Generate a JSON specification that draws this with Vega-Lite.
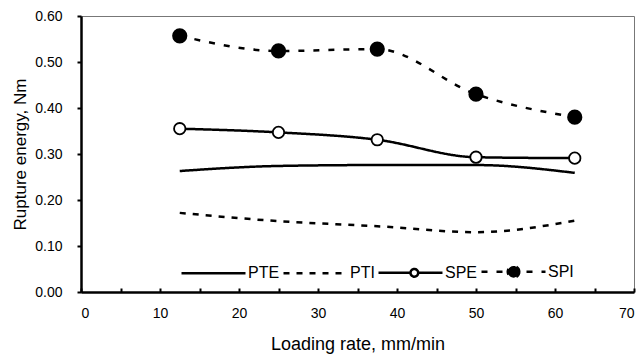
{
  "$schema": "https://vega.github.io/schema/vega-lite/v6.json",
  "width": 553,
  "height": 276,
  "autosize": {"type": "none"},
  "padding": {"left": 81, "top": 16, "right": 7, "bottom": 62},
  "background": "white",
  "config": {
    "view": {"stroke": "#777777", "strokeWidth": 1},
    "font": "Liberation Sans",
    "axis": {
      "grid": false,
      "domainColor": "black",
      "domainWidth": 2.5,
      "tickColor": "black",
      "tickWidth": 2,
      "labelColor": "black",
      "labelFont": "Liberation Sans",
      "labelFontSize": 14,
      "titleFont": "Liberation Sans",
      "titleFontSize": 17,
      "titleFontWeight": "normal",
      "titleColor": "black"
    }
  },
  "data": {
    "values": [
      {"series": "PTE", "rate": 12.5, "energy": 0.263},
      {"series": "PTE", "rate": 25, "energy": 0.274},
      {"series": "PTE", "rate": 37.5, "energy": 0.276},
      {"series": "PTE", "rate": 50, "energy": 0.276},
      {"series": "PTE", "rate": 62.5, "energy": 0.259},
      {"series": "PTI", "rate": 12.5, "energy": 0.172},
      {"series": "PTI", "rate": 25, "energy": 0.154},
      {"series": "PTI", "rate": 37.5, "energy": 0.143},
      {"series": "PTI", "rate": 50, "energy": 0.130},
      {"series": "PTI", "rate": 62.5, "energy": 0.155},
      {"series": "SPE", "rate": 12.5, "energy": 0.355},
      {"series": "SPE", "rate": 25, "energy": 0.347},
      {"series": "SPE", "rate": 37.5, "energy": 0.331},
      {"series": "SPE", "rate": 50, "energy": 0.293},
      {"series": "SPE", "rate": 62.5, "energy": 0.291},
      {"series": "SPI", "rate": 12.5, "energy": 0.557},
      {"series": "SPI", "rate": 25, "energy": 0.524},
      {"series": "SPI", "rate": 37.5, "energy": 0.528},
      {"series": "SPI", "rate": 50, "energy": 0.430},
      {"series": "SPI", "rate": 62.5, "energy": 0.380}
    ]
  },
  "encoding": {
    "x": {
      "field": "rate",
      "type": "quantitative",
      "scale": {"domain": [0, 70], "nice": false},
      "axis": {
        "values": [0, 5, 10, 15, 20, 25, 30, 35, 40, 45, 50, 55, 60, 65, 70],
        "labelExpr": "datum.value % 10 === 0 ? datum.label : ''",
        "tickSize": -4,
        "labelPadding": 18,
        "title": "Loading rate, mm/min",
        "titleFontSize": 18,
        "titlePadding": 15
      }
    },
    "y": {
      "field": "energy",
      "type": "quantitative",
      "scale": {"domain": [0, 0.6], "nice": false},
      "axis": {
        "values": [0, 0.1, 0.2, 0.3, 0.4, 0.5, 0.6],
        "format": ".2f",
        "tickSize": 4,
        "labelPadding": 15,
        "title": "Rupture energy, Nm",
        "titlePadding": 5
      }
    }
  },
  "layer": [
    {
      "mark": {"type": "line", "color": "black", "strokeWidth": 2.5, "interpolate": "monotone"},
      "encoding": {
        "strokeDash": {
          "field": "series",
          "type": "nominal",
          "scale": {"domain": ["PTE", "PTI", "SPE", "SPI"], "range": [[1, 0], [6, 7], [1, 0], [6, 9]]},
          "legend": {
            "title": null,
            "orient": "none",
            "direction": "horizontal",
            "legendX": 99,
            "legendY": 222,
            "padding": 0,
            "symbolSize": 4096,
            "symbolType": "M-1,0L1,0",
            "symbolStrokeColor": "black",
            "symbolStrokeWidth": 2.5,
            "labelOffset": 1,
            "columnPadding": -2,
            "labelFont": "Liberation Sans",
            "labelFontSize": 16,
            "labelColor": "black",
            "encode": {
              "symbols": {
                "update": {
                  "shape": {"signal": "datum.value === 'SPE' ? 'M-1,0L0.0,0M0.24,0L1,0M0.24,0A0.12,0.12 0 1,1 0.0,0A0.12,0.12 0 1,1 0.24,0' : (datum.value === 'SPI' ? 'M-1,0L1,0M0.18,0A0.18,0.18 0 1,1 -0.18,0A0.18,0.18 0 1,1 0.18,0' : 'M-1,0L1,0')"},
                  "fill": {"signal": "datum.value === 'SPI' ? 'black' : (datum.value === 'SPE' ? 'white' : 'transparent')"},
                  "stroke": {"value": "black"}
                }
              }
            }
          }
        }
      }
    },
    {
      "transform": [{"filter": "datum.series === 'SPE' || datum.series === 'SPI'"}],
      "mark": {"type": "point", "shape": "circle", "stroke": "black", "strokeWidth": 1.8, "opacity": 1},
      "encoding": {
        "fill": {
          "condition": {"test": "datum.series === 'SPI'", "value": "black"},
          "value": "white"
        },
        "size": {
          "condition": {"test": "datum.series === 'SPI'", "value": 180},
          "value": 130
        }
      }
    }
  ]
}
